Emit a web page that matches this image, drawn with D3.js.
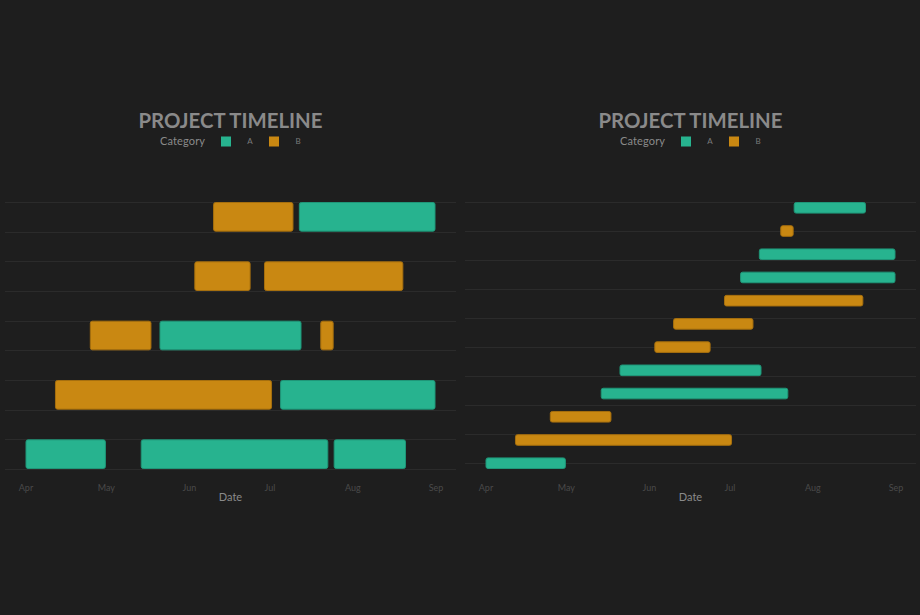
<!DOCTYPE html>
<html>
<head>
<meta charset="utf-8">
<script src="https://cdn.jsdelivr.net/npm/d3@7"></script>
<style>
  html, body { margin: 0; padding: 0; background: #1e1e1e; }
  svg { display: block; }
  text { font-family: "Lato", "Open Sans", sans-serif; }
</style>
</head>
<body>
<svg id="chart" width="920" height="615"></svg>
<script>
// ---- data ----
const taskStart = ["2024-04-01","2024-04-12","2024-04-25","2024-05-14","2024-05-21","2024-06-03",
                   "2024-06-10","2024-06-29","2024-07-05","2024-07-12","2024-07-20","2024-07-25"];
const taskEnd   = ["2024-05-01","2024-07-02","2024-05-18","2024-07-23","2024-07-13","2024-06-24",
                   "2024-07-10","2024-08-20","2024-09-01","2024-09-01","2024-07-25","2024-08-21"];
const taskCategory = ["A","B","B","A","A","B","B","B","A","A","B","A"];
const categories = ["A","B"];
const categoryColors = ["#27b38f","#c98812"];
const categoryStroke = ["#1f9678","#a66f0e"];
const monthTicks = ["2024-04-01","2024-05-01","2024-06-01","2024-07-01","2024-08-01","2024-09-01"];
const monthLabels = ["Apr","May","Jun","Jul","Aug","Sep"];
const leftGridTicks = [0,1,2,3,4,5,6,7,8,9];
const rightGridTicks = [0,2.5,5,7.5,10,12.5,15,17.5,20,22.5];
const titleText = "PROJECT TIMELINE";
const legendTitle = "Category";
const xAxisTitle = "Date";

const parse = d3.timeParse("%Y-%m-%d");
const tasks = taskStart.map((s, i) => ({ start: parse(s), end: parse(taskEnd[i]), cat: taskCategory[i] }))
  .sort((a, b) => a.start - b.start);

// greedy lane packing for the compact view
const laneEnds = [];
tasks.forEach(t => {
  let lane = laneEnds.findIndex(e => e <= t.start);
  if (lane < 0) { lane = laneEnds.length; laneEnds.push(t.end); } else laneEnds[lane] = t.end;
  t.lane = lane;
});
const nLanes = laneEnds.length;
tasks.forEach((t, i) => { t.order = i; });

const color = d3.scaleOrdinal().domain(categories).range(categoryColors);
const stroke = d3.scaleOrdinal().domain(categories).range(categoryStroke);

const svg = d3.select("#chart");
svg.append("rect").attr("width", 920).attr("height", 615).attr("fill", "#1e1e1e");

const minD = d3.min(tasks, d => d.start), maxD = d3.max(tasks, d => d.end);
const span = maxD - minD;
const months = monthTicks.map(parse);

function panel(offsetX, mode) {
  const g = svg.append("g").attr("transform", `translate(${offsetX},0)`);
  const x = d3.scaleTime()
    .domain([new Date(+minD - span * 0.05), new Date(+maxD + span * 0.05)])
    .range([5, 456]);
  const yMax = mode === "lanes" ? nLanes * 2 - 1 : tasks.length * 2 - 1;
  const y = d3.scaleLinear().domain([0, yMax]).range([202, 469]);
  const gridTicks = mode === "lanes" ? leftGridTicks : rightGridTicks;
  const cx = (5 + 456) / 2;

  // gridlines
  g.append("g").selectAll("line").data(gridTicks).join("line")
    .attr("x1", 5).attr("x2", 456)
    .attr("y1", d => Math.round(y(d)) + 0.5).attr("y2", d => Math.round(y(d)) + 0.5)
    .attr("stroke", "#2b2b2b").attr("stroke-width", 1.2);

  // bars
  const row = d => mode === "lanes" ? (nLanes - 1 - d.lane) : (tasks.length - 1 - d.order);
  g.append("g").selectAll("rect").data(tasks).join("rect")
    .attr("x", d => x(d.start) + 0.5)
    .attr("width", d => x(d.end) - x(d.start) - 1)
    .attr("y", d => y(row(d) * 2) + 0.5)
    .attr("height", d => y(row(d) * 2 + 1) - y(row(d) * 2) - 1)
    .attr("rx", 2).attr("ry", 2)
    .attr("fill", d => color(d.cat))
    .attr("stroke", d => stroke(d.cat)).attr("stroke-width", 1);

  // x axis
  const ax = g.append("g").attr("transform", "translate(0,469)")
    .call(d3.axisBottom(x).tickValues(months).tickFormat((d, i) => monthLabels[i]).tickSize(0).tickPadding(16));
  ax.select(".domain").remove();
  ax.selectAll("text").attr("fill", "#4a4a4a").style("font-size", "9px")
    .style("font-family", "Lato, 'Open Sans', sans-serif");

  g.append("text").attr("x", cx).attr("y", 501).attr("text-anchor", "middle")
    .attr("fill", "#8a8a8a").style("font-size", "11px").text(xAxisTitle);

  // title
  g.append("text").attr("x", cx).attr("y", 127.5).attr("text-anchor", "middle")
    .attr("fill", "#8a8a8a").style("font-size", "20px").style("font-weight", "bold")
    .attr("textLength", 184).attr("lengthAdjust", "spacingAndGlyphs")
    .text(titleText);

  // legend
  const lg = g.append("g").attr("transform", `translate(${cx},0)`);
  lg.append("text").attr("x", -70.5).attr("y", 145).attr("fill", "#8a8a8a")
    .style("font-size", "11px").attr("textLength", 45).text(legendTitle);
  categories.forEach((c, i) => {
    lg.append("rect").attr("x", -9.5 + i * 48).attr("y", 136.5).attr("width", 10).attr("height", 10)
      .attr("fill", color(c));
    lg.append("text").attr("x", 19.5 + i * 48).attr("y", 144).attr("text-anchor", "middle")
      .attr("fill", "#7a7a7a").style("font-size", "8px").text(c);
  });
}

panel(0, "lanes");
panel(460, "rows");
</script>
</body>
</html>
